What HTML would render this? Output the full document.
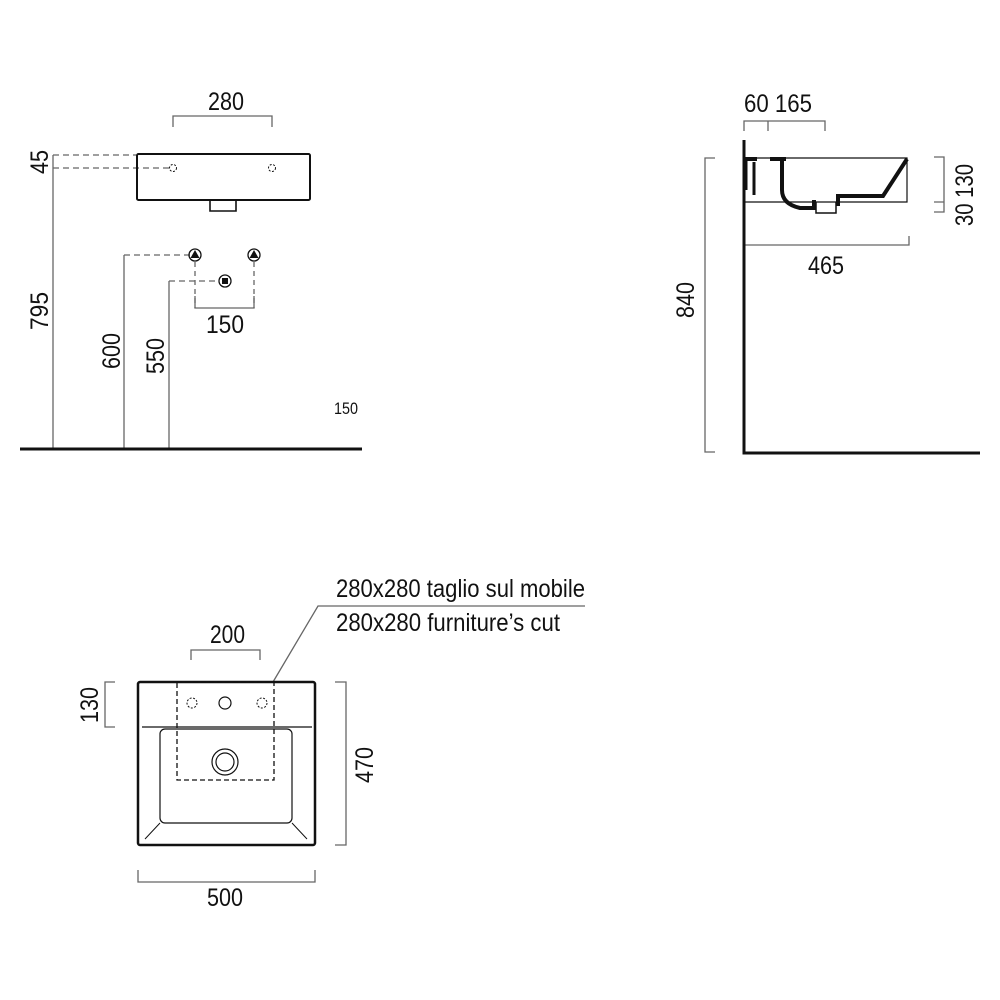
<!DOCTYPE html>
<html><head><meta charset="utf-8"><style>
html,body{margin:0;padding:0;background:#fff}
svg{display:block}
text{font-family:"Liberation Sans Narrow","Liberation Sans",sans-serif;fill:#111}
</style></head><body>
<svg width="1000" height="1000" viewBox="0 0 1000 1000" xmlns="http://www.w3.org/2000/svg">
<g fill="none" stroke="#666" stroke-width="1.3">
<path d="M173 127V116H272V127"/>
<path d="M53 449V155"/>
<path d="M53 155H136M53 168H170" stroke-dasharray="6 4"/>
<path d="M124 449V255"/>
<path d="M124 255H190" stroke-dasharray="6 4"/>
<path d="M169 449V281"/>
<path d="M169 281H218" stroke-dasharray="6 4"/>
<path d="M195 262V308M254 262V308" stroke-dasharray="5 4"/>
<path d="M195 296V308H254V296"/>
<path d="M744 131V121H825V131M768 121V131"/>
<path d="M715 158H705V452H715"/>
<path d="M744 245H909V236"/>
<path d="M934 157H944V212H934M934 202H944"/>
<path d="M191 660V650H260V660"/>
<path d="M115 682H105V727H115"/>
<path d="M335 682H346V845H335"/>
<path d="M138 870V882H315V870"/>
<path d="M273 682L318 606H585"/>
</g>
<g fill="none" stroke="#111">
<rect x="137" y="154" width="173" height="46" rx="1.5" stroke-width="2"/>
<path d="M210 200V211H236V200" stroke-width="1.6"/>
<circle cx="173" cy="168" r="3.5" stroke-width="1" stroke-dasharray="2 1.5"/>
<circle cx="272" cy="168" r="3.5" stroke-width="1" stroke-dasharray="2 1.5"/>
<path d="M20 449H362" stroke-width="3"/>
<circle cx="195" cy="255" r="6" stroke-width="1.3"/>
<circle cx="254" cy="255" r="6" stroke-width="1.3"/>
<circle cx="225" cy="281" r="6" stroke-width="1.3"/>
</g>
<path d="M195 250L199.5 258H190.5Z M254 250L258.5 258H249.5Z" fill="#111"/>
<rect x="222" y="278" width="6" height="6" fill="#111"/>
<g fill="none" stroke="#111">
<path d="M744 140V453H980" stroke-width="3"/>
<path d="M744 158H907V202H744" stroke-width="1.2"/>
<path d="M907 159L883 196H838V206" stroke-width="4"/>
<path d="M782 158V190Q782 204 800 208H814V200" stroke-width="4"/>
<path d="M744 159H757M770 159H786" stroke-width="4"/>
<path d="M746 160V190M754 162V195" stroke-width="3"/>
<path d="M816 202V213H836V202" stroke-width="1.5"/>
</g>
<g fill="none" stroke="#111">
<rect x="138" y="682" width="177" height="163" rx="2" stroke-width="2.5"/>
<path d="M142 727H312" stroke-width="1.2"/>
<rect x="160" y="729" width="132" height="94" rx="5" stroke-width="1.2"/>
<path d="M160 823L145 839M292 823L307 839" stroke-width="1"/>
<rect x="177" y="682" width="97" height="98" stroke-width="1.3" stroke-dasharray="5 3"/>
<circle cx="192" cy="703" r="5" stroke-width="1" stroke-dasharray="2 1.5"/>
<circle cx="262" cy="703" r="5" stroke-width="1" stroke-dasharray="2 1.5"/>
<circle cx="225" cy="703" r="6" stroke-width="1.2"/>
<circle cx="225" cy="762" r="13" stroke-width="1.2"/>
<circle cx="225" cy="762" r="9" stroke-width="1.2"/>
</g>
<g font-size="25" lengthAdjust="spacingAndGlyphs">
<text x="208" y="110" textLength="36" lengthAdjust="spacingAndGlyphs">280</text>
<text x="206" y="333" textLength="38" lengthAdjust="spacingAndGlyphs">150</text>
<text transform="translate(48,174) rotate(-90)" textLength="24" lengthAdjust="spacingAndGlyphs">45</text>
<text transform="translate(48,330) rotate(-90)" textLength="38" lengthAdjust="spacingAndGlyphs">795</text>
<text transform="translate(120,369) rotate(-90)" textLength="36" lengthAdjust="spacingAndGlyphs">600</text>
<text transform="translate(164,374) rotate(-90)" textLength="36" lengthAdjust="spacingAndGlyphs">550</text>
<text x="744" y="112" textLength="68" lengthAdjust="spacingAndGlyphs">60 165</text>
<text x="808" y="274" textLength="36" lengthAdjust="spacingAndGlyphs">465</text>
<text transform="translate(694,318) rotate(-90)" textLength="36" lengthAdjust="spacingAndGlyphs">840</text>
<text transform="translate(973,226) rotate(-90)" textLength="62" lengthAdjust="spacingAndGlyphs">30 130</text>
<text x="210" y="643" textLength="35" lengthAdjust="spacingAndGlyphs">200</text>
<text transform="translate(98,723) rotate(-90)" textLength="36" lengthAdjust="spacingAndGlyphs">130</text>
<text transform="translate(373,783) rotate(-90)" textLength="36" lengthAdjust="spacingAndGlyphs">470</text>
<text x="207" y="906" textLength="36" lengthAdjust="spacingAndGlyphs">500</text>
<text x="336" y="597" textLength="249" lengthAdjust="spacingAndGlyphs">280x280 taglio sul mobile</text>
<text x="336" y="631" textLength="224" lengthAdjust="spacingAndGlyphs">280x280 furniture’s cut</text>
</g>
<text x="334" y="414" font-size="17" textLength="24" lengthAdjust="spacingAndGlyphs">150</text>
</svg>
</body></html>
